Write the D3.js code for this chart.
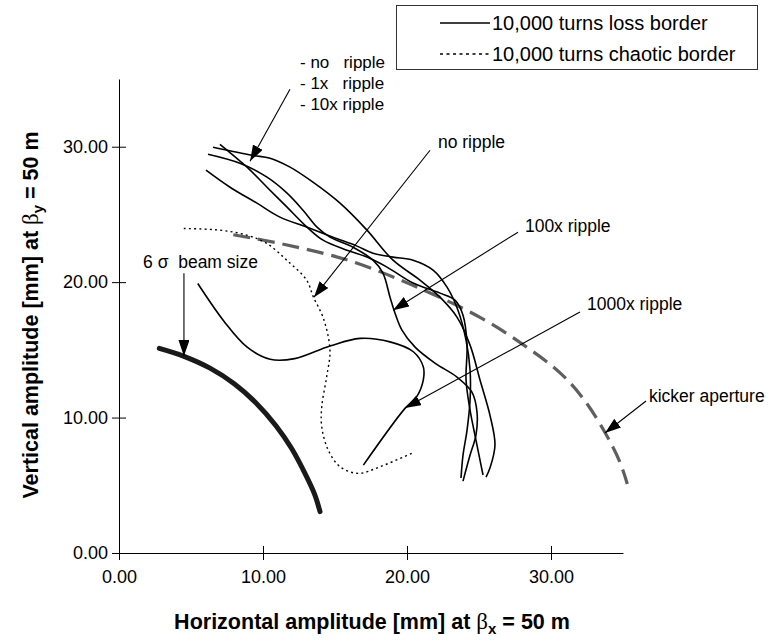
<!DOCTYPE html>
<html><head><meta charset="utf-8">
<script src="https://cdn.jsdelivr.net/npm/d3@7"></script>
<style>
body{margin:0;background:#fff}
svg{display:block}
text{font-family:"Liberation Sans",Arial,Helvetica,sans-serif;fill:#000}
</style>
</head><body>
<svg id="chart" width="770" height="641"></svg>
<script>
// ---------- data ----------
const xTickValues = [0, 10, 20, 30];
const yTickValues = [0, 10, 20, 30];

// 10,000 turns loss borders (solid)
const lossCurveA = [[6.53,29.96],[9.24,29.37],[10.49,29.15],[11.88,28.49],[13.47,27.38],[15.35,25.83],[17.22,23.84],[19.03,21.62],[20.90,20.15],[22.29,18.89],[23.47,17.42],[24.38,15.35],[25.07,12.77],[25.76,10.18],[26.11,7.97],[25.76,6.27],[25.49,5.61]];
const lossCurveB = [[7.01,30.18],[8.89,28.49],[10.28,27.01],[11.67,25.54],[13.06,24.06],[14.17,23.10],[15.83,22.36],[17.22,21.85],[18.61,21.11],[20.42,19.93],[22.29,19.19],[23.33,18.67],[23.89,17.56],[24.17,15.35],[24.10,12.77],[24.38,10.55],[24.79,8.34],[25.07,6.86],[25.28,5.76]];
const lossCurve100x = [[6.18,29.45],[8.40,28.78],[10.28,27.75],[11.67,26.57],[12.78,25.31],[13.75,24.06],[14.65,23.32],[16.25,22.58],[17.64,21.62],[18.33,20.66],[18.82,18.89],[19.17,17.71],[19.65,16.46],[20.56,15.20],[21.94,14.02],[23.47,12.99],[24.51,11.88],[24.86,10.41],[24.79,8.71],[24.38,7.23],[23.89,5.31]];
const lossCurveD = [[6.04,28.27],[7.71,27.01],[9.58,25.83],[11.18,24.80],[13.06,24.06],[14.86,23.32],[16.53,22.66],[17.64,22.14],[19.03,21.85],[20.42,21.62],[21.81,20.89],[22.78,19.63],[23.54,17.93],[24.10,15.72],[24.38,13.51],[24.38,11.29],[24.17,9.08],[23.89,7.23],[23.75,5.54]];
const lossCurve1000x = [[5.47,19.90],[7.30,17.10],[8.90,15.20],[10.50,14.30],[12.20,14.35],[14.65,15.28],[16.74,15.85],[18.82,15.59],[20.44,14.86],[21.13,13.75],[21.13,12.77],[20.67,11.54],[19.86,10.68],[16.97,6.49]];

// 10,000 turns chaotic border (dotted)
const chaoticBorder = [[4.50,23.96],[7.01,23.84],[8.87,23.47],[10.26,22.86],[11.65,21.62],[13.03,20.15],[13.49,18.92],[14.19,17.34],[14.65,14.98],[14.42,13.01],[14.08,10.80],[14.08,9.32],[14.53,7.60],[15.35,6.37],[16.62,5.88],[18.13,6.37],[20.33,7.36]];

// kicker aperture (grey dashed)
const kickerAperture = [[7.94,23.50],[11.18,22.85],[15.81,21.65],[20.44,19.75],[25.07,17.40],[28.31,15.20],[30.63,13.30],[32.24,11.40],[33.75,8.90],[34.79,6.70],[35.30,5.10]];

// 6 sigma beam size (thick)
const beamSize = [[2.80,15.11],[4.47,14.54],[6.32,13.65],[8.00,12.50],[9.50,11.10],[10.90,9.40],[12.00,7.70],[13.00,5.70],[13.60,4.30],[13.96,3.05]];

// annotations: text, text anchor point, arrow start, arrow tip (data coords)
const annotationLabels = ["no ripple", "100x ripple", "1000x ripple", "kicker aperture", "6 \u03c3\u00a0 beam size"];
const annotationTextPos = [[22.15,30.33],[28.19,24.13],[32.50,18.38],[36.80,11.59],[1.67,21.48]];
const annotationArrowFrom = [[21.60,29.74],[27.71,23.69],[32.01,17.79],[36.60,11.22],[4.51,20.66]];
const annotationArrowTo = [[13.54,18.89],[19.03,17.93],[19.86,10.70],[33.75,8.86],[4.51,14.54]];
const rippleListLabels = ["- no\u00a0\u00a0 ripple", "- 1x\u00a0\u00a0 ripple", "- 10x ripple"];
const rippleListPos = [12.57, 36.25];
const rippleArrowFrom = [11.875, 34.24];
const rippleArrowTo = [9.10, 28.93];

const legendLabels = ["10,000 turns loss border", "10,000 turns chaotic border"];

// ---------- drawing ----------
const svg = d3.select("#chart");
const x = d3.scaleLinear().domain([0, 35]).range([119, 623]);
const y = d3.scaleLinear().domain([0, 35]).range([553, 79]);

svg.append("rect").attr("width", 770).attr("height", 641).attr("fill", "#fff");

const defs = svg.append("defs");
defs.append("marker").attr("id", "ah")
  .attr("viewBox", "0 0 16 11").attr("refX", 16).attr("refY", 5.5)
  .attr("markerWidth", 16).attr("markerHeight", 11)
  .attr("markerUnits", "userSpaceOnUse").attr("orient", "auto")
  .append("path").attr("d", "M0,0 L16,5.5 L0,11 Z").attr("fill", "#000");

// axes
const xAxis = d3.axisBottom(x).tickValues(xTickValues).tickFormat(d3.format(".2f"))
  .tickSizeInner(7).tickSizeOuter(0).tickPadding(10);
const gx = svg.append("g").attr("transform", `translate(0,${y(0)})`).call(xAxis);
gx.selectAll(".tick line").attr("y1", -7).attr("y2", 7).attr("stroke", "#000");
gx.select(".domain").attr("stroke", "#000");
gx.selectAll("text").attr("font-size", 18).attr("font-family", '"Liberation Sans",Arial,sans-serif').attr("fill", "#000");

const yAxis = d3.axisLeft(y).tickValues(yTickValues).tickFormat(d3.format(".2f"))
  .tickSizeInner(7).tickSizeOuter(0).tickPadding(4);
const gy = svg.append("g").attr("transform", `translate(${x(0)},0)`).call(yAxis);
gy.selectAll(".tick line").attr("x1", -7).attr("x2", 7).attr("stroke", "#000");
gy.select(".domain").attr("stroke", "#000");
gy.selectAll("text").attr("font-size", 18).attr("font-family", '"Liberation Sans",Arial,sans-serif').attr("fill", "#000");

// axis titles
const xt = svg.append("text").attr("x", 372).attr("y", 629).attr("text-anchor", "middle")
  .attr("font-size", 21.5).attr("font-weight", "bold");
xt.append("tspan").text("Horizontal amplitude [mm] at ");
xt.append("tspan").attr("font-family", '"Liberation Serif","DejaVu Serif",serif').attr("font-weight", "normal").attr("font-size", 23).text("\u03b2");
xt.append("tspan").attr("font-size", 15).attr("dy", 5).text("x");
xt.append("tspan").attr("dy", -5).text(" = 50 m");

const yt = svg.append("text").attr("transform", "translate(38,315) rotate(-90)").attr("text-anchor", "middle")
  .attr("font-size", 21.5).attr("font-weight", "bold");
yt.append("tspan").text("Vertical amplitude [mm] at ");
yt.append("tspan").attr("font-family", '"Liberation Serif","DejaVu Serif",serif').attr("font-weight", "normal").attr("font-size", 23).text("\u03b2");
yt.append("tspan").attr("font-size", 15).attr("dy", 5).text("y");
yt.append("tspan").attr("dy", -5).text(" = 50 m");

// lines
const line = d3.line().x(d => x(d[0])).y(d => y(d[1])).curve(d3.curveCatmullRom.alpha(0.5));

svg.append("path").datum(kickerAperture).attr("d", line)
  .attr("fill", "none").attr("stroke", "#5f5f5f").attr("stroke-width", 3.2).attr("stroke-dasharray", "17,8");

svg.append("path").datum(chaoticBorder).attr("d", line)
  .attr("fill", "none").attr("stroke", "#000").attr("stroke-width", 1.4).attr("stroke-dasharray", "2,3.2");

[lossCurveA, lossCurveB, lossCurve100x, lossCurveD, lossCurve1000x].forEach(c => {
  svg.append("path").datum(c).attr("d", line)
    .attr("fill", "none").attr("stroke", "#000").attr("stroke-width", 1.6);
});

svg.append("path").datum(beamSize).attr("d", line)
  .attr("fill", "none").attr("stroke", "#1a1a1a").attr("stroke-width", 5).attr("stroke-linecap", "round");

// annotations
annotationLabels.forEach((t, i) => {
  svg.append("line")
    .attr("x1", x(annotationArrowFrom[i][0])).attr("y1", y(annotationArrowFrom[i][1]))
    .attr("x2", x(annotationArrowTo[i][0])).attr("y2", y(annotationArrowTo[i][1]))
    .attr("stroke", "#000").attr("stroke-width", 1.1).attr("marker-end", "url(#ah)");
  svg.append("text").attr("x", x(annotationTextPos[i][0])).attr("y", y(annotationTextPos[i][1]))
    .attr("dy", "0.35em").attr("font-size", 17.5).text(t);
});

rippleListLabels.forEach((t, i) => {
  svg.append("text").attr("x", x(rippleListPos[0])).attr("y", y(rippleListPos[1]) + i * 21)
    .attr("dy", "0.35em").attr("font-size", 17).text(t);
});
svg.append("line")
  .attr("x1", x(rippleArrowFrom[0])).attr("y1", y(rippleArrowFrom[1]))
  .attr("x2", x(rippleArrowTo[0])).attr("y2", y(rippleArrowTo[1]))
  .attr("stroke", "#000").attr("stroke-width", 1.1).attr("marker-end", "url(#ah)");

// legend
const lg = svg.append("g");
lg.append("rect").attr("x", 396.5).attr("y", 5.5).attr("width", 361).attr("height", 64)
  .attr("fill", "#fff").attr("stroke", "#333").attr("stroke-width", 1);
const legendDash = [null, "3,3.5"];
legendLabels.forEach((t, i) => {
  const ly = 23 + i * 31;
  lg.append("line").attr("x1", 440).attr("x2", 490).attr("y1", ly).attr("y2", ly)
    .attr("stroke", "#000").attr("stroke-width", 1.5).attr("stroke-dasharray", legendDash[i]);
  lg.append("text").attr("x", 492).attr("y", ly).attr("dy", "0.35em").attr("font-size", 20).text(t);
});
</script>
</body></html>
